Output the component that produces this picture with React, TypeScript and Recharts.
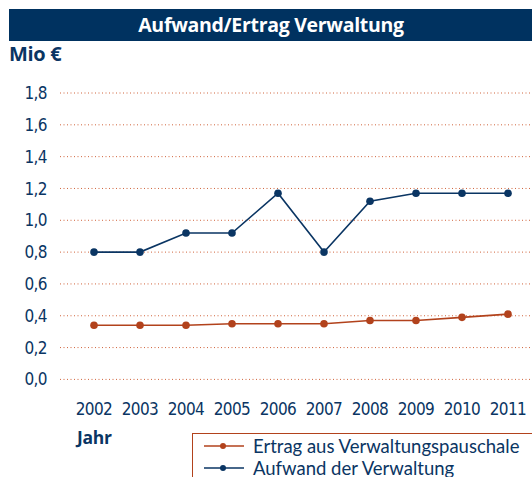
import React from "react";
import { LineChart, Line, XAxis, YAxis, CartesianGrid } from "recharts";

const years = ["2002", "2003", "2004", "2005", "2006", "2007", "2008", "2009", "2010", "2011"];
const ertrag = [0.34, 0.34, 0.34, 0.35, 0.35, 0.35, 0.37, 0.37, 0.39, 0.41];
const aufwand = [0.8, 0.8, 0.92, 0.92, 1.17, 0.8, 1.12, 1.17, 1.17, 1.17];
const yTicks = [0, 0.2, 0.4, 0.6, 0.8, 1.0, 1.2, 1.4, 1.6, 1.8];

const NAVY = "#0a3563";
const RUST = "#b2421c";
const GRID = "#d0643c";
const narrow = "'Liberation Sans Narrow', 'DejaVu Sans Condensed', sans-serif";
const sans = "Lato, 'Open Sans', sans-serif";
const bold = "'Open Sans', Lato, sans-serif";

const rows = years.map((y, i) => ({ year: y, ertrag: ertrag[i], aufwand: aufwand[i] }));

function LegendRow({ color, label }: { color: string; label: string }) {
  return (
    <div style={{ display: "flex", alignItems: "center", height: 22 }}>
      <svg width={60} height={10} style={{ flex: "none" }}>
        <line x1={11} y1={5} x2={51} y2={5} stroke={color} strokeWidth={1.6} />
        <circle cx={30} cy={5} r={3} fill={color} />
      </svg>
      <span style={{ color: NAVY, fontSize: 18.5, fontFamily: sans, whiteSpace: "nowrap" }}>{label}</span>
    </div>
  );
}

export default function App() {
  return (
    <div style={{ position: "absolute", left: 0, top: 0, width: 532, height: 477, overflow: "hidden", background: "#fff" }}>
      <LineChart
        width={532}
        height={477}
        data={rows}
        margin={{ top: 93, right: 0, bottom: 0, left: 0 }}
        style={{ position: "absolute", left: 0, top: 0 }}
      >
        <CartesianGrid vertical={false} stroke={GRID} strokeDasharray="1 2.5" strokeWidth={1} />
        <XAxis
          dataKey="year"
          height={97.6}
          axisLine={false}
          tickLine={false}
          tickSize={0}
          tickMargin={24}
          padding={{ left: 34, right: 24 }}
          interval={0}
          tick={{ fill: NAVY, fontSize: 17, fontFamily: narrow, letterSpacing: -0.6 }}
        />
        <YAxis
          width={60}
          domain={[0, 1.8]}
          ticks={yTicks}
          axisLine={false}
          tickLine={false}
          tickSize={0}
          tickMargin={13}
          tickFormatter={(v: number) => v.toFixed(1).replace(".", ",")}
          tick={{ fill: NAVY, fontSize: 17, fontFamily: narrow, letterSpacing: -0.6 }}
        />
        <Line
          dataKey="ertrag"
          stroke={RUST}
          strokeWidth={1.6}
          dot={{ r: 3.8, fill: RUST, stroke: RUST, strokeWidth: 0 }}
          isAnimationActive={false}
        />
        <Line
          dataKey="aufwand"
          stroke={NAVY}
          strokeWidth={1.6}
          dot={{ r: 3.8, fill: NAVY, stroke: NAVY, strokeWidth: 0 }}
          isAnimationActive={false}
        />
      </LineChart>

      <div
        style={{
          position: "absolute", left: 9, top: 9, width: 540, height: 32, background: "#003260",
          color: "#fff", fontFamily: bold, fontWeight: 700, fontSize: 19.5, lineHeight: "32px",
          textAlign: "center", boxSizing: "border-box", paddingRight: 16, letterSpacing: -0.3,
        }}
      >
        Aufwand/Ertrag Verwaltung
      </div>
      <div style={{ position: "absolute", left: 9, top: 40, color: NAVY, fontFamily: bold, fontWeight: 700, fontSize: 20, letterSpacing: -0.3 }}>
        Mio €
      </div>
      <div style={{ position: "absolute", left: 77, top: 425, color: NAVY, fontFamily: bold, fontWeight: 700, fontSize: 17.5, letterSpacing: -0.3 }}>
        Jahr
      </div>
      <div
        style={{
          position: "absolute", left: 192, top: 433, width: 360, height: 60, border: `1.5px solid ${RUST}`,
          background: "#fff", paddingTop: 1, boxSizing: "border-box",
        }}
      >
        <LegendRow color={RUST} label="Ertrag aus Verwaltungspauschale" />
        <LegendRow color={NAVY} label="Aufwand der Verwaltung" />
      </div>
    </div>
  );
}
